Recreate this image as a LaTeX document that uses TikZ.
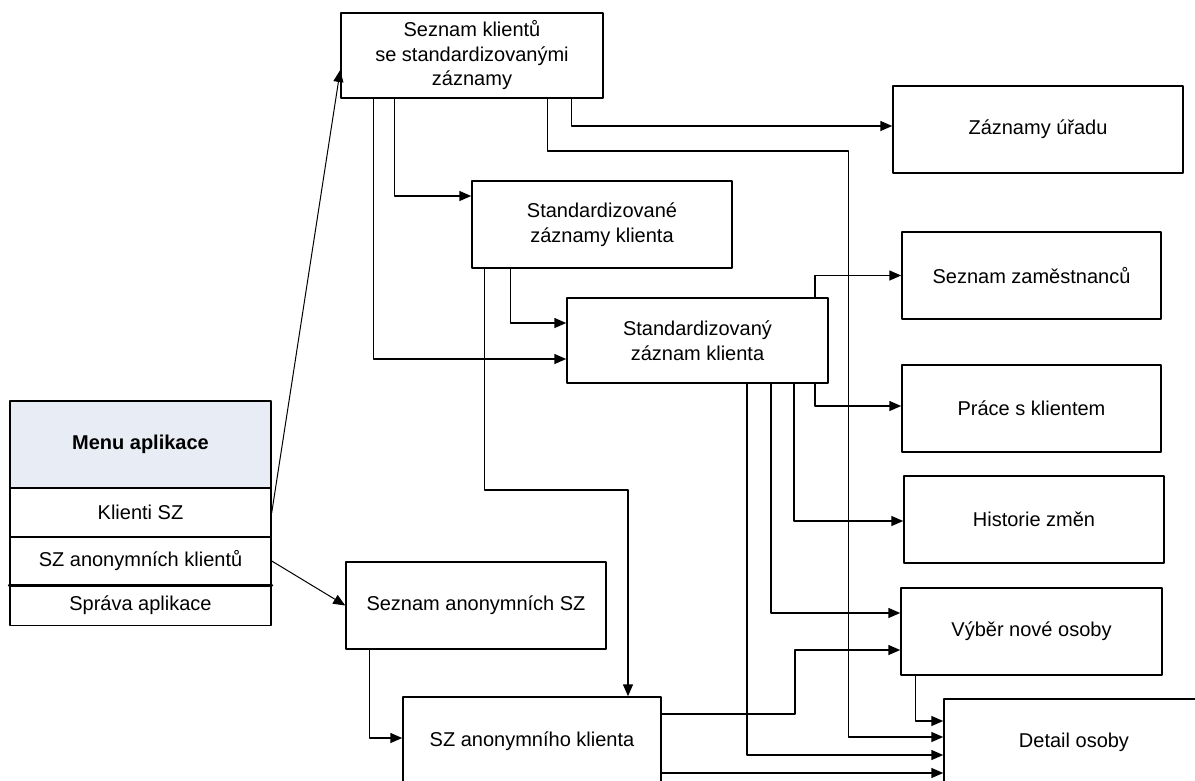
\documentclass[tikz,border=0pt]{standalone}
\usepackage{fontspec}
\setmainfont{Liberation Sans}
\usepackage{xcolor}
\usepackage{tikz}
\usetikzlibrary{arrows.meta}
\definecolor{menuhead}{RGB}{232,236,244}

\begin{document}
\begin{tikzpicture}[x=1pt, y=-1pt, line cap=round, line join=round,
    box/.style={draw, line width=1.5pt, rectangle, align=center, inner sep=2pt,
        font=\fontsize{20}{24.5}\selectfont},
    menuitem/.style={draw, line width=1.5pt, rectangle, minimum width=261pt, inner sep=0pt,
        font=\fontsize{20}{24}\selectfont},
    arr/.style={-{Triangle[length=12pt,width=10pt]}, line width=1.5pt}]
        % Page frame
        \useasboundingbox (0,0) rectangle (1195,780);
        \clip (0,0) rectangle (1195,780);

        % Menu on the left
        \node[menuitem, fill=menuhead, minimum height=87pt, font=\fontsize{20}{24}\selectfont\bfseries] (menu) at (140.5,444.5) {Menu aplikace};
        \node[menuitem, minimum height=49pt] (klienti) at (140.5,512.5) {Klienti SZ};
        \node[menuitem, minimum height=48pt] (anonm) at (140.5,561) {SZ anonymních klientů};
        \node[menuitem, minimum height=40pt] (sprava) at (140.5,605.5) {Správa aplikace};
        \draw[line width=3pt] (anonm.south west) -- (anonm.south east);

        % Screens
        \node[box, minimum width=262pt, minimum height=85pt] (seznam) at (472,55.5) {Seznam klientů\\se standardizovanými\\záznamy};
        \node[box, minimum width=290pt, minimum height=87pt] (urad) at (1038,129.5) {Záznamy úřadu};
        \node[box, minimum width=260pt, minimum height=87pt] (stdz) at (602,224.5) {Standardizované\\záznamy klienta};
        \node[box, minimum width=261pt, minimum height=85pt] (stdk) at (697.5,340.5) {Standardizovaný\\záznam klienta};
        \node[box, minimum width=259pt, minimum height=87pt] (zam) at (1031.5,275.5) {Seznam zaměstnanců};
        \node[box, minimum width=259pt, minimum height=87pt] (prace) at (1031.5,408.5) {Práce s klientem};
        \node[box, minimum width=260pt, minimum height=87pt] (hist) at (1034,519.5) {Historie změn};
        \node[box, minimum width=260pt, minimum height=87pt] (anonlist) at (476,605.5) {Seznam anonymních SZ};
        \node[box, minimum width=261pt, minimum height=87pt] (vyber) at (1031.5,631.5) {Výběr nové osoby};
        \node[box, minimum width=258pt, minimum height=88pt] (anonkl) at (532,741) {SZ anonymního klienta};
        \node[box, minimum width=260pt, minimum height=86pt] (detail) at (1074,742) {Detail osoby};

        % From the menu
        \draw[arr, line width=1pt] (klienti.east) -- ([yshift=-14.5pt]seznam.west);
        \draw[arr, line width=1pt] (anonm.east) -- (anonlist.west);

        % From the list of clients
        \draw[arr] ([xshift=33pt]seznam.south west) |- ([yshift=-18.5pt]stdk.west);
        \draw[arr] ([xshift=54pt]seznam.south west) |- ([yshift=28.5pt]stdz.west);
        \draw[arr] ([xshift=207pt]seznam.south west) -- ++(0,52) -- ++(301,0) |- ([yshift=5pt]detail.west);
        \draw[arr] ([xshift=231pt]seznam.south west) |- ([yshift=3.5pt]urad.west);

        % From the client records
        \draw[arr] ([xshift=39pt]stdz.south west) |- ([yshift=17.5pt]stdk.west);
        \draw[arr] ([xshift=13pt]stdz.south west) -- ++(0,221) -| ([xshift=96pt]anonkl.north);

        % From one client record
        \draw[arr] ([xshift=-14pt]stdk.north east) |- (zam.west);
        \draw[arr] ([xshift=-14pt]stdk.south east) |- ([yshift=2.5pt]prace.west);
        \draw[arr] ([xshift=-35pt]stdk.south east) |- ([yshift=-1.5pt]hist.west);
        \draw[arr] ([xshift=-58pt]stdk.south east) |- ([yshift=18.5pt]vyber.west);
        \draw[arr] ([xshift=-82pt]stdk.south east) |- ([yshift=-13pt]detail.west);

        % Anonymous clients
        \draw[arr] ([xshift=24pt]anonlist.south west) |- ([yshift=3pt]anonkl.west);
        \draw[arr] ([yshift=27pt]anonkl.east) -- ++(133,0) |- ([yshift=-18.5pt]vyber.west);
        \draw[arr] ([yshift=-32pt]anonkl.east) -- ([yshift=-32pt]anonkl.east -| detail.west);
        \draw[arr] ([xshift=15pt]vyber.south west) |- ([yshift=21pt]detail.west);
    \end{tikzpicture}
\end{document}
